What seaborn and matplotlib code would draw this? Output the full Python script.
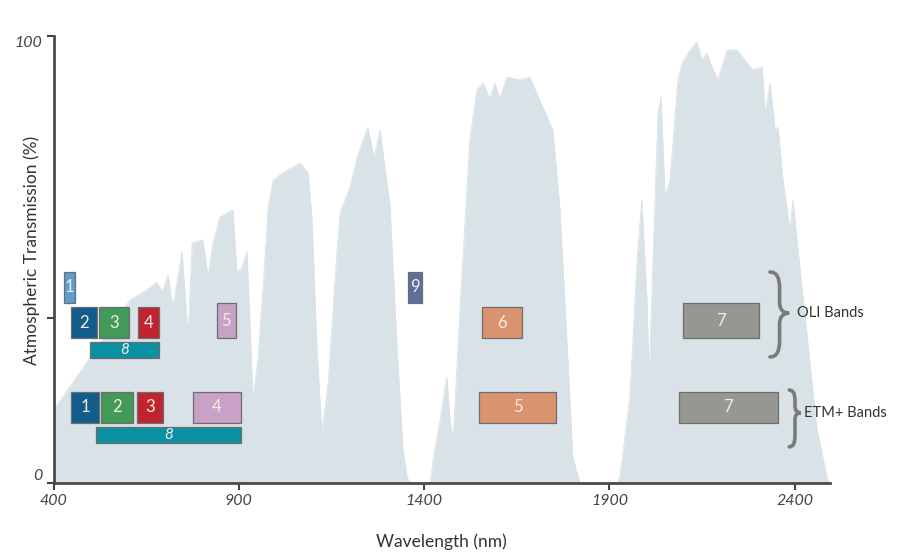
import matplotlib
matplotlib.use("Agg")
import matplotlib.pyplot as plt
from matplotlib.path import Path
from matplotlib.patches import PathPatch
import seaborn as sns
import pandas as pd

# ---- data -------------------------------------------------------------
wavelength = [400, 606, 652, 679, 693, 709, 722, 747, 763, 774, 803, 817, 830,
              849, 884, 895, 908, 922, 930, 938, 952, 965, 979, 993, 1019, 1065,
              1087, 1097, 1111, 1124, 1141, 1165, 1173, 1200, 1219, 1248, 1265,
              1281, 1308, 1327, 1343, 1354, 1362, 1416, 1424, 1443, 1461, 1470,
              1478, 1497, 1523, 1542, 1559, 1577, 1591, 1604, 1623, 1658, 1685,
              1720, 1747, 1766, 1785, 1801, 1820, 1920, 1928, 1955, 1974, 1987,
              2001, 2007, 2017, 2031, 2039, 2050, 2063, 2085, 2096, 2112, 2136,
              2150, 2163, 2180, 2193, 2217, 2244, 2271, 2287, 2312, 2320, 2333,
              2347, 2355, 2368, 2387, 2395, 2406, 2422, 2441, 2460, 2487, 2492]
transmission = [16.3, 40.9, 43.2, 45.0, 42.7, 46.5, 39.4, 51.7, 32.7, 53.7, 54.4,
                46.1, 53.7, 59.5, 61.1, 47.0, 48.1, 51.7, 35.8, 18.6, 28.2, 43.2,
                61.7, 67.8, 69.4, 71.6, 69.4, 59.5, 29.8, 11.2, 22.4, 52.1, 60.4,
                66.2, 72.9, 79.6, 72.9, 79.0, 61.7, 29.8, 7.4, 1.3, 0.0, 0.0, 5.1,
                14.1, 23.7, 14.1, 9.6, 39.4, 76.7, 87.9, 89.5, 86.1, 89.5, 86.1,
                90.8, 90.2, 90.8, 84.1, 79.0, 61.7, 32.0, 5.8, 0.0, 0.0, 1.3, 19.2,
                49.2, 63.3, 41.6, 23.7, 49.2, 82.8, 86.4, 64.0, 67.8, 90.2, 94.0,
                96.2, 98.7, 94.6, 96.2, 92.4, 90.2, 96.9, 96.9, 94.0, 92.4, 93.1,
                82.8, 89.5, 79.0, 79.6, 67.8, 56.6, 63.3, 54.4, 41.6, 26.8, 11.9,
                1.3, 0.0]

oli_bands = ["1", "2", "3", "4", "5", "6", "7", "8", "9"]
oli_start = [428, 447, 523, 628, 841, 1555, 2098, 498, 1356]
oli_end = [457, 518, 604, 685, 892, 1663, 2303, 685, 1394]

etm_bands = ["1", "2", "3", "4", "5", "7", "8"]
etm_start = [447, 528, 625, 776, 1548, 2087, 515]
etm_end = [523, 614, 695, 906, 1756, 2354, 906]

x_ticks = [400, 900, 1400, 1900, 2400]
y_ticks = [0, 37, 100]
y_ticklabels = ["0", "", "100"]

# ---- style / layout --------------------------------------------------
sns.set_theme(style="white")
plt.rcParams["font.family"] = ["Lato", "DejaVu Sans"]

oli_colors = {"1": "#5b9fd2", "2": "#125d8c", "3": "#429a58", "4": "#c1232f",
              "5": "#c9a1c6", "6": "#d9946f", "7": "#969791", "8": "#0b90a3",
              "9": "#5e6f9b"}
etm_colors = {"1": "#125d8c", "2": "#429a58", "3": "#c1232f", "4": "#c9a1c6",
              "5": "#d9946f", "7": "#969791", "8": "#0b90a3"}
oli_rows = {"1": (40.3, 47.2), "9": (40.3, 47.2), "5": (32.4, 40.3),
            "7": (32.4, 40.3), "8": (28.0, 31.5)}
oli_default = (32.4, 39.4)
etm_rows = {"8": (8.9, 12.5)}
etm_default = (13.4, 20.4)

fig = plt.figure(figsize=(9.01, 5.52), dpi=100, facecolor="white")
ax = fig.add_axes([53.5 / 901, (552 - 483) / 552, (830 - 53.5) / 901, (483 - 36) / 552])
ax.set_facecolor("white")

df = pd.DataFrame({"wavelength": wavelength, "transmission": transmission})
fill_color = "#d8e2e7"
ax.fill_between(df["wavelength"], 0, df["transmission"], color=fill_color, lw=0, zorder=1)
sns.lineplot(data=df, x="wavelength", y="transmission", ax=ax, color=fill_color,
             lw=0.6, zorder=1, estimator=None, sort=False)


def draw_bands(labels, starts, ends, colors, rows, default):
    for lab, s, e in zip(labels, starts, ends):
        y0, y1 = rows.get(lab, default)
        ax.bar(s, y1 - y0, width=e - s, bottom=y0, align="edge",
               color=colors[lab], edgecolor="#6d6d6d", linewidth=0.9, zorder=3)
        fs = 12 if lab != "8" else 11
        ax.text((s + e) / 2, (y0 + y1) / 2, lab, ha="center", va="center",
                color="#f6eee2", fontsize=fs, zorder=4,
                style="italic" if lab == "8" else "normal")


draw_bands(oli_bands, oli_start, oli_end, oli_colors, oli_rows, oli_default)
draw_bands(etm_bands, etm_start, etm_end, etm_colors, etm_rows, etm_default)


def brace(x0, x1, ytop, ybot, ymid):
    xm = (x0 + x1) / 2
    d = 0.18 * (ytop - ybot)
    verts = [(x0, ytop), (xm, ytop), (xm, ytop - d), (xm, ymid + d * 0.7),
             (xm, ymid), (x1, ymid), (xm, ymid), (xm, ymid - d * 0.7),
             (xm, ybot + d), (xm, ybot), (x0, ybot)]
    codes = [Path.MOVETO, Path.CURVE3, Path.CURVE3, Path.LINETO,
             Path.CURVE3, Path.CURVE3, Path.CURVE3, Path.CURVE3,
             Path.LINETO, Path.CURVE3, Path.CURVE3]
    ax.add_patch(PathPatch(Path(verts, codes), facecolor="none",
                           edgecolor="#7a7a7a", lw=2.6, capstyle="round",
                           zorder=5, clip_on=False))


brace(2333, 2385, 47.2, 28.2, 38.0)
brace(2385, 2416, 20.8, 8.1, 15.7)
ax.text(2405, 38.0, "OLI Bands", ha="left", va="center", fontsize=10.5,
        color="#333333", zorder=5, clip_on=False)
ax.text(2425, 15.7, "ETM+ Bands", ha="left", va="center", fontsize=10.5,
        color="#333333", zorder=5, clip_on=False)

# ---- axes ------------------------------------------------------------
ax.set_xlim(400, 2495)
ax.set_ylim(0, 100)
ax.set_xticks(x_ticks)
ax.set_xticklabels([str(t) for t in x_ticks], fontsize=11.5, color="#444444",
                   style="italic")
ax.set_yticks(y_ticks)
ax.set_yticklabels(y_ticklabels, fontsize=11.5, color="#444444", style="italic")
yl = ax.get_yticklabels()
yl[0].set_va("bottom")
yl[2].set_va("top")
ax.tick_params(axis="both", direction="out", length=5, width=1.5, color="#444444",
               bottom=True, left=True, pad=3)
for side in ["top", "right"]:
    ax.spines[side].set_visible(False)
for side in ["left", "bottom"]:
    ax.spines[side].set_color("#4a4a4a")
    ax.spines[side].set_linewidth(2)
ax.set_xlabel("Wavelength (nm)", fontsize=12.5, color="#333333", labelpad=18)
ax.set_ylabel("Atmospheric Transmission (%)", fontsize=12.5, color="#333333",
              va="center")
ax.yaxis.set_label_coords(-0.028, 0.52)

fig.savefig("out.png", dpi=100, facecolor="white")
